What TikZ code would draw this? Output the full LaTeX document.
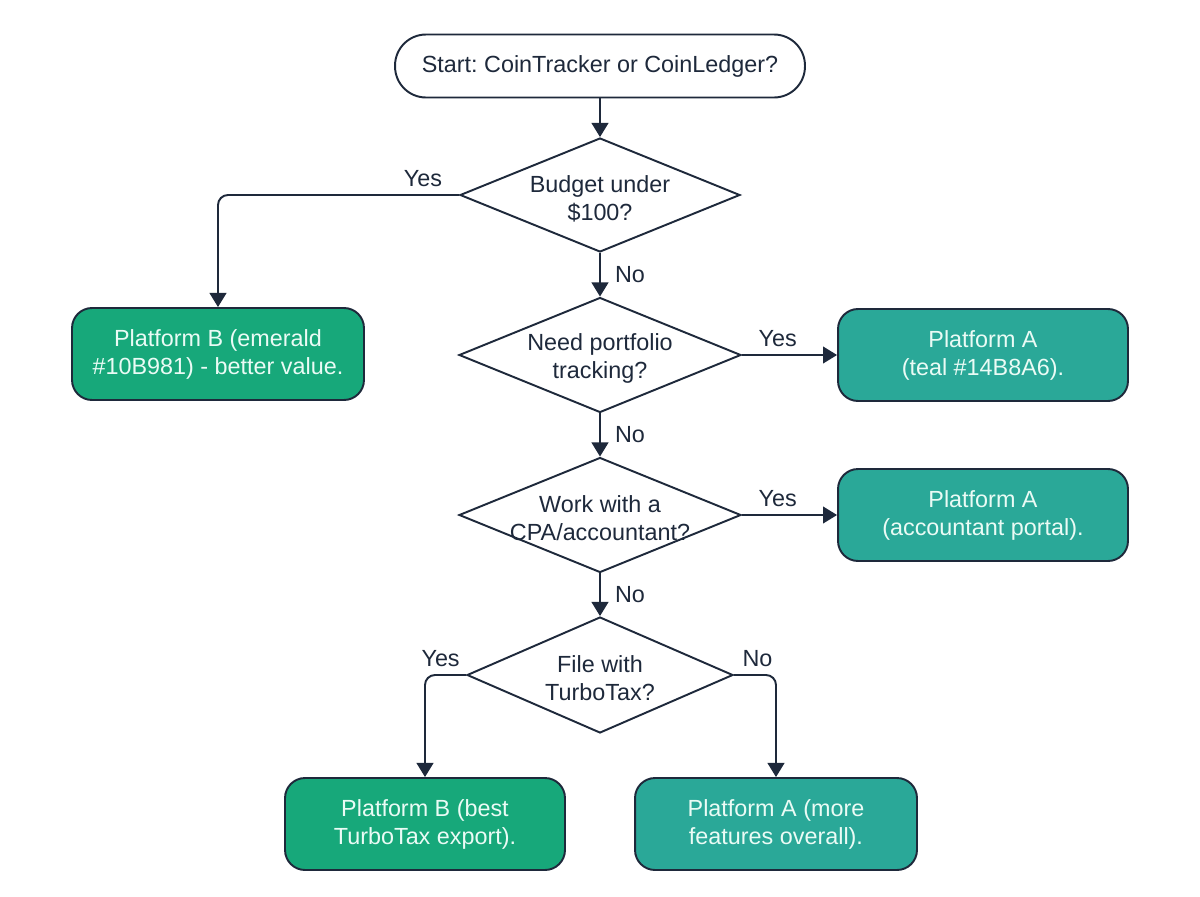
\documentclass[tikz,border=0pt]{standalone}
\usepackage{fontspec}
\setmainfont{Liberation Sans}
\usetikzlibrary{shapes.geometric,arrows.meta}
\definecolor{ink}{HTML}{1E293B}
\definecolor{emer}{HTML}{17A87A}
\definecolor{tealc}{HTML}{2AA898}
\definecolor{boxtxt}{HTML}{EAFBF5}
\frenchspacing
\begin{document}
\begin{tikzpicture}[x=0.02cm,y=-0.02cm,
  font=\fontsize{13.3}{15.9}\selectfont,
  startbox/.style={draw=ink, line width=1.1pt, fill=white, rounded corners=0.62cm,
    minimum width=8.2cm, minimum height=1.26cm, text=ink},
  dia/.style={diamond, draw=ink, line width=1.1pt, fill=white, inner sep=0pt,
    minimum width=5.64cm, minimum height=2.3cm},
  dtxt/.style={align=center, text=ink, inner sep=0pt, yshift=-2pt},
  pbox/.style={draw=ink, line width=1.1pt, rounded corners=0.4cm, align=center,
    text=boxtxt, minimum height=1.84cm},
  emerbox/.style={pbox, fill=emer},
  tealbox/.style={pbox, fill=tealc},
  arr/.style={draw=ink, line width=1.1pt, -{Triangle[length=8pt,width=9.5pt]}},
  lbl/.style={text=ink, inner sep=4pt}]
\fill[white] (0,0) rectangle (1200,896);
\useasboundingbox (0,0) rectangle (1200,896);

\node[startbox] (s) at (600,66) {Start: CoinTracker or CoinLedger?};

\node[dia, minimum width=5.6cm, minimum height=2.28cm,
  label={[dtxt]center:{Budget under\\ \$100?}}] (d1) at (600,195) {};
\node[dia, label={[dtxt]center:{Need portfolio\\ tracking?}}] (d2) at (600,355) {};
\node[dia, label={[dtxt]center:{Work with a\\ CPA/accountant?}}] (d3) at (600,515) {};
\node[dia, minimum width=5.32cm, minimum height=2.32cm,
  label={[dtxt]center:{File with\\ TurboTax?}}] (d4) at (600,675) {};

\node[emerbox, minimum width=5.84cm] (b1) at (218,354) {Platform B (emerald\\ \#10B981) - better value.};
\node[tealbox, minimum width=5.8cm] (a1) at (983,355) {Platform A\\ (teal \#14B8A6).};
\node[tealbox, minimum width=5.8cm] (a2) at (983,515) {Platform A\\ (accountant portal).};
\node[emerbox, minimum width=5.6cm] (b2) at (425,824) {Platform B (best\\ TurboTax export).};
\node[tealbox, minimum width=5.64cm] (a3) at (776,824) {Platform A (more\\ features overall).};

\draw[arr] (s) -- (d1);
\draw[arr, rounded corners=0.2cm] (d1.west) -| node[lbl, pos=0.075, above] (y1) {Yes} (b1.north);
\draw[arr] (d1) -- node[lbl, right=4pt] (n1) {No} (d2);
\draw[arr] (d2) -- node[lbl, pos=0.375, above] (y2) {Yes} (a1);
\draw[arr] (d2) -- node[lbl, right=4pt] (n2) {No} (d3);
\draw[arr] (d3) -- node[lbl, pos=0.375, above] (y3) {Yes} (a2);
\draw[arr] (d3) -- node[lbl, right=4pt] (n3) {No} (d4);
\draw[arr, rounded corners=0.2cm] (d4.west) -| node[lbl, pos=0.31, above] (y4) {Yes} (b2.north);
\draw[arr, rounded corners=0.2cm] (d4.east) -| node[lbl, pos=0.28, above] (n4) {No} (a3.north);
\end{tikzpicture}
\end{document}
